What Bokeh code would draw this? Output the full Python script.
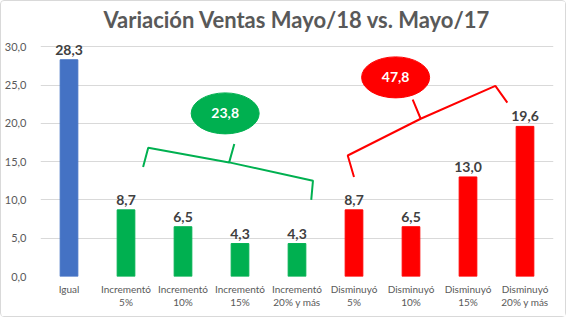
from bokeh.plotting import figure
from bokeh.models import ColumnDataSource, FixedTicker, Range1d
from bokeh.core.properties import value
from bokeh.embed import file_html
from bokeh.resources import INLINE

# ---- data ----
categories = ["Igual", "Incrementó\n5%", "Incrementó\n10%", "Incrementó\n15%", "Incrementó\n20% y más",
              "Disminuyó\n5%", "Disminuyó\n10%", "Disminuyó\n15%", "Disminuyó\n20% y más"]
values = [28.3, 8.7, 6.5, 4.3, 4.3, 8.7, 6.5, 13.0, 19.6]
groups = ["igual", "inc", "inc", "inc", "inc", "dis", "dis", "dis", "dis"]
group_totals = {"inc": 23.8, "dis": 47.8}
y_ticks = [0, 5, 10, 15, 20, 25, 30]
y_tick_labels = ["0,0", "5,0", "10,0", "15,0", "20,0", "25,0", "30,0"]
title = "Variación Ventas Mayo/18 vs. Mayo/17"

# ---- styling ----
group_colors = {"igual": "#4472C4", "inc": "#00B050", "dis": "#FF0000"}
FONT = "Lato"
TXT = "#595959"

def fmt(v):
    return f"{v:.1f}".replace(".", ",")

xs = list(range(len(categories)))
src = ColumnDataSource(dict(
    x=xs, top=values, color=[group_colors[g] for g in groups],
    label=[fmt(v) for v in values]))

W, H = 566, 317
Y_TOP = 31.6
p = figure(width=W, height=H, output_backend="svg", toolbar_location=None,
           x_range=Range1d(-0.5, len(categories) - 0.5), y_range=Range1d(0, Y_TOP),
           min_border_left=38, min_border_right=W - 552, min_border_top=33,
           min_border_bottom=H - 275)
p.styles = {"border": "1px solid #d9d9d9", "border-radius": "4px"}
p.outline_line_color = None
p.background_fill_color = "white"
p.border_fill_color = "white"

p.title.text = title
p.title.text_font = FONT
p.title.text_font_size = "22px"
p.title.text_font_style = "bold"
p.title.text_color = TXT
p.title.align = "center"
p.title.standoff = 3

p.vbar(x="x", top="top", width=0.31, color="color", source=src)
p.text(x="x", y="top", text="label", source=src, text_align="center",
       text_baseline="bottom", y_offset=-5, text_font=value(FONT),
       text_font_size="14px", text_font_style="bold", text_color="#404040")

# axes
p.xaxis.ticker = FixedTicker(ticks=xs)
p.xaxis.major_label_overrides = {i: c for i, c in zip(xs, categories)}
p.yaxis.ticker = FixedTicker(ticks=y_ticks)
p.yaxis.major_label_overrides = {t: l for t, l in zip(y_ticks, y_tick_labels)}
for ax in (p.xaxis, p.yaxis):
    ax.axis_line_color = None
    ax.major_tick_line_color = None
    ax.minor_tick_line_color = None
    ax.major_label_text_font = FONT
    ax.major_label_text_color = TXT
p.xaxis.major_label_text_font_size = "10px"
p.yaxis.major_label_text_font_size = "11px"
p.xaxis.major_label_standoff = 0
p.xaxis.major_label_text_line_height = 1.1
p.yaxis.major_label_standoff = 8
p.xgrid.grid_line_color = None
p.ygrid.grid_line_color = "#d9d9d9"
p.ygrid.ticker = FixedTicker(ticks=y_ticks)

# brackets (annotation geometry)
green_br_x = [1.30, 1.39, 2.81, 2.90, 2.81, 4.28, 4.25]
green_br_y = [14.3, 16.8, 14.9, 17.3, 14.9, 12.5, 10.0]
red_br_x = [5.00, 4.89, 6.17, 6.03, 6.17, 7.48, 7.69]
red_br_y = [13.0, 15.8, 20.6, 23.1, 20.6, 24.9, 22.7]
p.line(green_br_x, green_br_y, line_color=group_colors["inc"], line_width=2)
p.line(red_br_x, red_br_y, line_color=group_colors["dis"], line_width=2)

# total bubbles
bub = ColumnDataSource(dict(x=[2.74, 5.73], y=[21.3, 26.0],
                            color=[group_colors["inc"], group_colors["dis"]],
                            label=[fmt(group_totals["inc"]), fmt(group_totals["dis"])]))
p.ellipse(x="x", y="y", width=68, height=41, width_units="screen", height_units="screen",
          fill_color="color", line_color="color", source=bub)
p.text(x="x", y="y", text="label", source=bub, text_align="center", text_baseline="middle",
       text_font=value(FONT), text_font_size="14px", text_font_style="bold", text_color="white")

open("out.html", "w").write(file_html(p, INLINE))
